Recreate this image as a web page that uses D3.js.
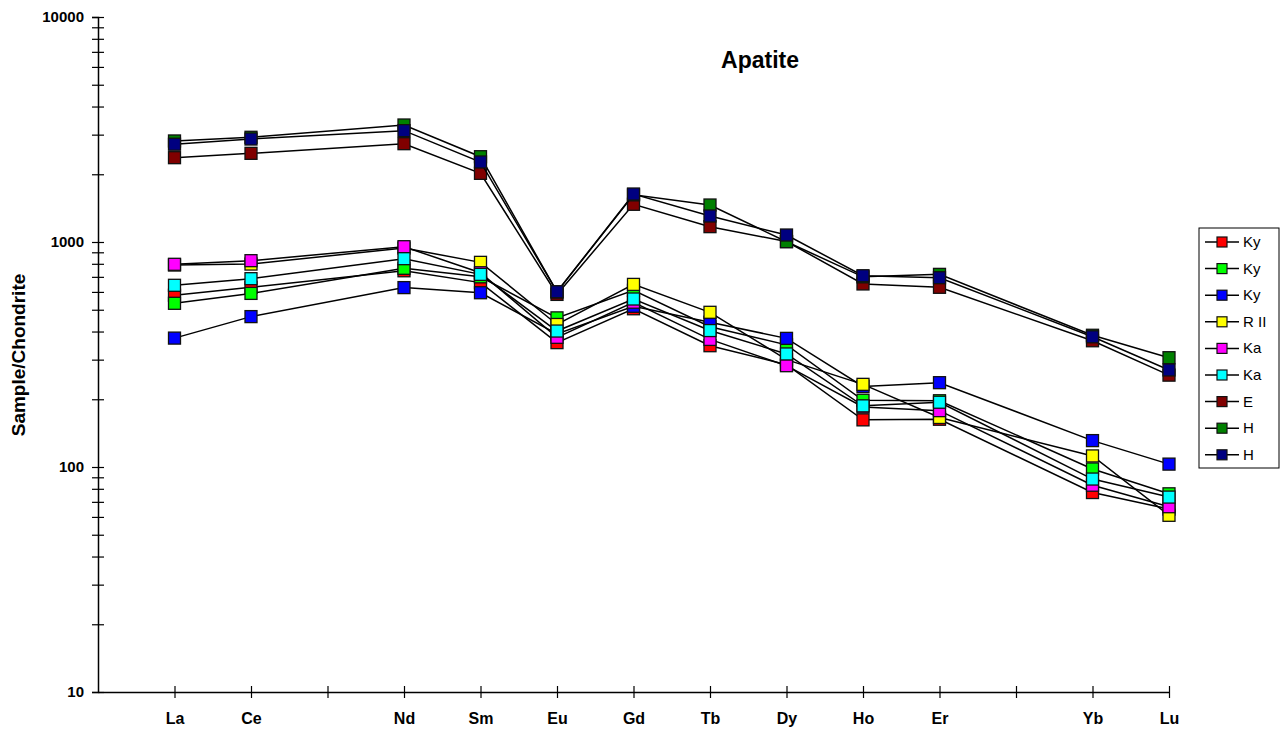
<!DOCTYPE html>
<html>
<head>
<meta charset="utf-8">
<script src="https://cdn.jsdelivr.net/npm/d3@7"></script>
<style>
  body { margin: 0; background: #fff; }
  svg { font-family: "Liberation Sans", Arial, sans-serif; }
</style>
</head>
<body>
<div id="chart"></div>
<script>
// REE categories (Pr and Tm left empty on the axis)
const elements = ["La", "Ce", "Pr", "Nd", "Sm", "Eu", "Gd", "Tb", "Dy", "Ho", "Er", "Tm", "Yb", "Lu"];
const tickLabels = ["La", "Ce", "", "Nd", "Sm", "Eu", "Gd", "Tb", "Dy", "Ho", "Er", "", "Yb", "Lu"];

const seriesNames = ["Ky", "Ky", "Ky", "R II", "Ka", "Ka", "E", "H", "H"];
const seriesColors = ["#ff0000", "#00ff00", "#0000ff", "#ffff00", "#ff00ff", "#00ffff", "#800000", "#008000", "#000080"];

// values normalised to chondrite, null = not analysed
const kyRed     = [580, 629, null, 745, 660, 357, 505, 346, 285, 162, 163, null, 77, 65];
const kyLime    = [534, 591, null, 764, 700, 460, 610, 420, 349, 198, 197, null, 98, 76];
const kyBlue    = [374, 466, null, 627, 595, 390, 518, 440, 373, 228, 237, null, 131, 103];
const r2Yellow  = [790, 798, null, 940, 812, 430, 648, 487, 300, 233, 166, null, 112, 61];
const kaMagenta = [796, 826, null, 953, 730, 377, 540, 369, 282, 185, 178, null, 83, 66.6];
const kaCyan    = [642, 687, null, 843, 718, 402, 558, 404, 318, 187, 194, null, 88.4, 73.5];
const eMaroon   = [2370, 2478, null, 2735, 2019, 585, 1471, 1170, 1005, 651, 629, null, 364, 256];
const hGreen    = [2812, 2920, null, 3311, 2394, 600, 1620, 1460, 1003, 700, 718, null, 385, 306];
const hNavy     = [2720, 2869, null, 3125, 2268, 601, 1634, 1305, 1074, 708, 694, null, 379, 270];

const seriesValues = [kyRed, kyLime, kyBlue, r2Yellow, kaMagenta, kaCyan, eMaroon, hGreen, hNavy];

const yMajor = [10, 100, 1000, 10000];

const W = 1284, H = 736;
const svg = d3.select("#chart").append("svg")
    .attr("width", W)
    .attr("height", H);

const x = d3.scaleLinear()
    .domain([0, elements.length])
    .range([98, 1169]);

const y = d3.scaleLog()
    .domain([10, 10000])
    .range([692, 17]);

// minor + major ticks for the log axis
let yTicks = [];
yMajor.slice(0, -1).forEach(function(m) {
    for (let k = 1; k < 10; k++) yTicks.push(m * k);
});
yTicks.push(10000);

// y axis
const yAxis = svg.append("g")
    .attr("transform", "translate(98,0)")
    .call(d3.axisLeft(y)
        .tickValues(yTicks)
        .tickSize(6)
        .tickFormat(function(d) { return yMajor.indexOf(d) >= 0 ? d : ""; }));
yAxis.select(".domain").attr("stroke", "#000").attr("stroke-width", 1.5);
yAxis.selectAll(".tick line").attr("x1", -6).attr("x2", 6).attr("stroke", "#000").attr("stroke-width", 1.2);
yAxis.selectAll(".tick text")
    .attr("x", -14)
    .style("font-size", "15px")
    .style("font-weight", "bold")
    .attr("fill", "#000");

// x axis
const xAxis = svg.append("g")
    .attr("transform", "translate(0,692)")
    .call(d3.axisBottom(x)
        .tickValues(d3.range(1, elements.length + 1))
        .tickSize(6)
        .tickSizeOuter(0)
        .tickFormat(function(d) { return tickLabels[d - 1]; }));
xAxis.select(".domain").attr("stroke", "#000").attr("stroke-width", 1.5);
xAxis.selectAll(".tick line").attr("y1", -6).attr("y2", 6).attr("stroke", "#000").attr("stroke-width", 1.2);
xAxis.selectAll(".tick text")
    .attr("y", 21)
    .style("font-size", "16px")
    .style("font-weight", "bold")
    .attr("fill", "#000");

// axis title
svg.append("text")
    .attr("transform", "translate(25,355) rotate(-90)")
    .attr("text-anchor", "middle")
    .style("font-size", "19px")
    .style("font-weight", "bold")
    .text("Sample/Chondrite");

// chart title
svg.append("text")
    .attr("x", 760)
    .attr("y", 68)
    .attr("text-anchor", "middle")
    .style("font-size", "23px")
    .style("font-weight", "bold")
    .text("Apatite");

const line = d3.line()
    .x(function(d) { return x(d.i + 1); })
    .y(function(d) { return y(d.v); });

const sq = 12;

seriesValues.forEach(function(vals, s) {
    const pts = vals.map(function(v, i) { return {i: i, v: v}; })
        .filter(function(d) { return d.v != null; });
    const g = svg.append("g");
    g.append("path")
        .datum(pts)
        .attr("fill", "none")
        .attr("stroke", "#000")
        .attr("stroke-width", 1.5)
        .attr("d", line);
    g.selectAll("rect")
        .data(pts)
        .enter()
        .append("rect")
        .attr("x", function(d) { return x(d.i + 1) - sq / 2; })
        .attr("y", function(d) { return y(d.v) - sq / 2; })
        .attr("width", sq)
        .attr("height", sq)
        .attr("fill", seriesColors[s])
        .attr("stroke", "#111")
        .attr("stroke-width", 1.3);
});

// legend
const legend = svg.append("g").attr("transform", "translate(1199,228)");
legend.append("rect")
    .attr("width", 80)
    .attr("height", 240)
    .attr("fill", "#fff")
    .attr("stroke", "#000")
    .attr("stroke-width", 1);

seriesNames.forEach(function(name, s) {
    const ly = 14 + s * 26.6;
    legend.append("line")
        .attr("x1", 6).attr("x2", 40)
        .attr("y1", ly).attr("y2", ly)
        .attr("stroke", "#000")
        .attr("stroke-width", 1.5);
    legend.append("rect")
        .attr("x", 23 - 5).attr("y", ly - 5)
        .attr("width", 10).attr("height", 10)
        .attr("fill", seriesColors[s])
        .attr("stroke", "#111")
        .attr("stroke-width", 1.2);
    legend.append("text")
        .attr("x", 44)
        .attr("y", ly + 5)
        .style("font-size", "15px")
        .text(name);
});
</script>
</body>
</html>
